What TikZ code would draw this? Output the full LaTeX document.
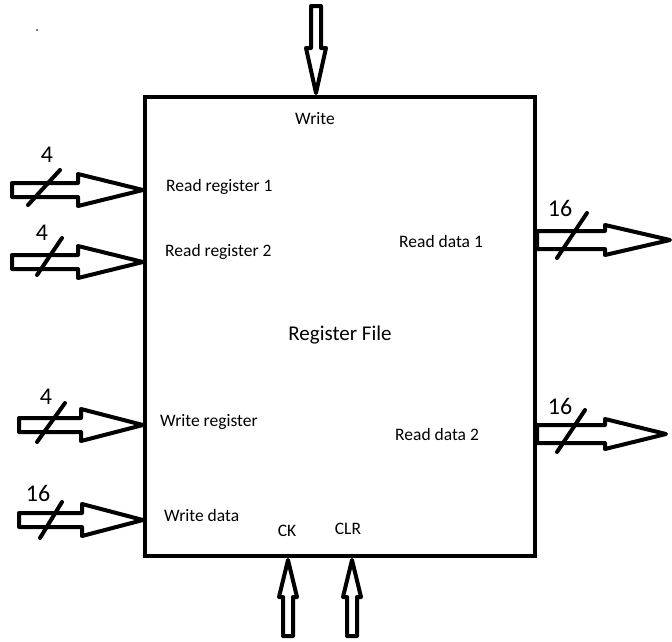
\documentclass[tikz,border=0pt]{standalone}
\usepackage{fontspec}
\setmainfont{Carlito}
\begin{document}
\begin{tikzpicture}[x=1pt,y=-1pt,
  blk/.style={draw=black,line width=4pt,fill=white,line join=round},
  slashln/.style={draw=black,line width=4pt,line cap=round},
  lbl/.style={font=\fontsize{17.5}{19}\selectfont,inner sep=0pt,anchor=center},
  bus/.style={font=\fontsize{24}{26}\selectfont,inner sep=0pt,anchor=center}]
\useasboundingbox (0,0) rectangle (672,641);
% harrow: start x, center y, neck x, tip x, shaft half, head half
\newcommand\myharrow[6]{%
  \draw[blk] (#1,#2-#5) -- (#3,#2-#5) -- (#3,#2-#6) -- (#4,#2) -- (#3,#2+#6) -- (#3,#2+#5) -- (#1,#2+#5) -- cycle;}
\newcommand\myvarrow[6]{%
  \draw[blk] (#2-#5,#1) -- (#2-#5,#3) -- (#2-#6,#3) -- (#2,#4) -- (#2+#6,#3) -- (#2+#5,#3) -- (#2+#5,#1) -- cycle;}
% box
\node[draw=black,line width=4.5pt,minimum width=390pt,minimum height=459pt,inner sep=0pt] (rf) at (340,326.5) {};
\node[font=\fontsize{21}{23}\selectfont] (title) at (340,335) {Register File};
% tiny dot
\fill (37,30) circle (0.9);
% left inputs
\myharrow{12}{190}{78}{143}{7}{16}
\draw[slashln] (28,205) -- (60,170);
\node[bus] (n1) at (47,155) {4};
\myharrow{12}{262}{78}{143}{7}{16}
\draw[slashln] (37,275) -- (62,238);
\node[bus] (n2) at (42,233) {4};
\myharrow{19}{425}{81}{143}{7}{16}
\draw[slashln] (37,442) -- (65,403);
\node[bus] (n3) at (46,397) {4};
\myharrow{19}{520}{82}{143}{7}{16}
\draw[slashln] (40,538) -- (62,502);
\node[bus] (n4) at (38,493) {16};
% right outputs
\myharrow{537}{240}{605}{670}{9}{15}
\draw[slashln] (557,258) -- (587,213);
\node[bus] (n5) at (560,208) {16};
\myharrow{537}{434}{605}{666}{9}{15}
\draw[slashln] (557,452) -- (585,410);
\node[bus] (n6) at (560,406) {16};
% top arrow
\myvarrow{6}{316}{48}{93}{5}{10}
% bottom arrows
\myvarrow{636}{288}{597}{560}{5}{9}
\myvarrow{636}{352}{597}{560}{5}{9}
% labels
\node[lbl] (w) at (315,119) {Write};
\node[lbl,anchor=west] (rr1) at (166,187) {Read register 1};
\node[lbl,anchor=west] (rr2) at (165,252) {Read register 2};
\node[lbl,anchor=west] (wr) at (160,422) {Write register};
\node[lbl,anchor=west] (wd) at (164,515) {Write data};
\node[lbl,anchor=west] (rd1) at (399,241) {Read data 1};
\node[lbl,anchor=west] (rd2) at (395,434) {Read data 2};
\node[lbl] (ck) at (287,531) {CK};
\node[lbl] (clr) at (348,529) {CLR};
\end{tikzpicture}
\end{document}
